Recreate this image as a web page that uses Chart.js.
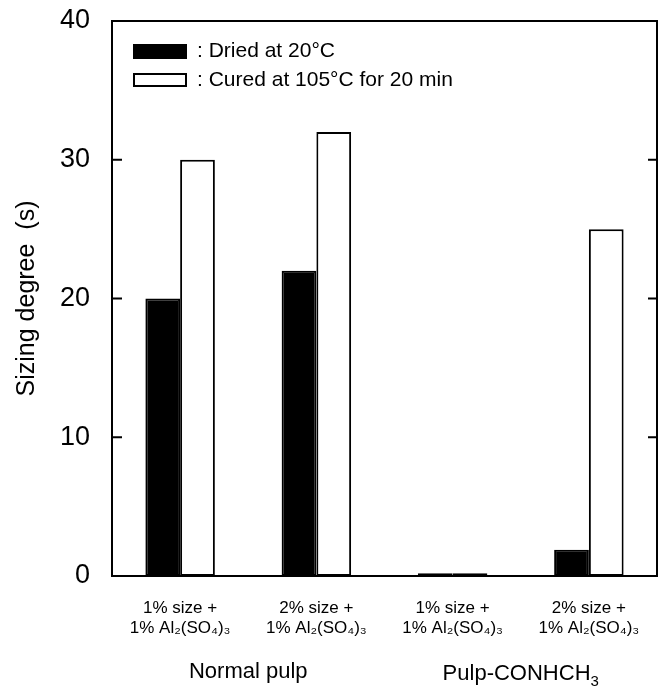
<!DOCTYPE html>
<html>
<head>
<meta charset="utf-8">
<script src="https://cdn.jsdelivr.net/npm/chart.js@4.4.1/dist/chart.umd.min.js"></script>
<style>
  html, body { margin: 0; padding: 0; background: #fff; }
  #wrap { width: 662px; height: 690px; }
</style>
</head>
<body>
<div id="wrap"><canvas id="chart"></canvas></div>
<script>
// datos
const categories = [
  ['1% size +', '1% Al₂(SO₄)₃'],
  ['2% size +', '1% Al₂(SO₄)₃'],
  ['1% size +', '1% Al₂(SO₄)₃'],
  ['2% size +', '1% Al₂(SO₄)₃']
];
const dried = [20, 22, 0.2, 1.9];
const cured = [30, 32, 0.2, 25];
const seriesNames = ['Dried at 20°C', 'Cured at 105°C for 20 min'];
const groupNames = ['Normal pulp', 'Pulp-CONHCH'];
const yTicks = [0, 10, 20, 30, 40];

const FONT = '"Liberation Sans", Arial, sans-serif';

// marco, marcas interiores, leyenda y nombres de grupo
const extras = {
  id: 'extras',
  afterDatasetsDraw(chart) {
    const { ctx, chartArea: a, scales } = chart;
    ctx.save();
    ctx.strokeStyle = '#000';
    ctx.lineWidth = 2;
    ctx.strokeRect(a.left, a.top, a.right - a.left, a.bottom - a.top);

    // marcas hacia dentro en ambos lados
    yTicks.forEach(v => {
      const y = scales.y.getPixelForValue(v);
      ctx.beginPath();
      ctx.moveTo(a.left, y); ctx.lineTo(a.left + 10, y);
      ctx.moveTo(a.right, y); ctx.lineTo(a.right - 9, y);
      ctx.stroke();
    });

    // leyenda
    ctx.font = '21px ' + FONT;
    ctx.textBaseline = 'middle';
    ctx.fillStyle = '#000';
    const lx = a.left + 21, ly = a.top + 30;
    ctx.fillRect(lx, ly - 7, 54, 15);
    ctx.fillText(': ' + seriesNames[0], lx + 64, ly);
    ctx.lineWidth = 2;
    ctx.strokeRect(lx + 1, ly + 23, 52, 12);
    ctx.fillText(': ' + seriesNames[1], lx + 64, ly + 29);

    // nombres de grupo
    ctx.font = '22px ' + FONT;
    ctx.textAlign = 'center';
    const x = scales.x;
    const g1 = (x.getPixelForValue(0) + x.getPixelForValue(1)) / 2;
    const g2 = (x.getPixelForValue(2) + x.getPixelForValue(3)) / 2;
    ctx.fillText(groupNames[0], g1, 672);
    const w = ctx.measureText(groupNames[1]).width;
    ctx.font = '15px ' + FONT;
    const ws = ctx.measureText('3').width;
    ctx.font = '22px ' + FONT;
    ctx.textAlign = 'left';
    const start = g2 - (w + ws) / 2;
    ctx.fillText(groupNames[1], start, 674);
    ctx.font = '15px ' + FONT;
    ctx.fillText('3', start + w, 682);
    ctx.restore();
  }
};

new Chart(document.getElementById('chart'), {
  type: 'bar',
  data: {
    labels: categories,
    datasets: [
      {
        label: seriesNames[0],
        data: dried,
        backgroundColor: '#000',
        borderColor: '#000',
        borderWidth: 2,
        borderSkipped: false
      },
      {
        label: seriesNames[1],
        data: cured,
        backgroundColor: '#fff',
        borderColor: '#000',
        borderWidth: 2,
        borderSkipped: false
      }
    ]
  },
  options: {
    responsive: true,
    maintainAspectRatio: false,
    animation: false,
    devicePixelRatio: 1,
    layout: { padding: { left: 0, right: 5, top: 21, bottom: 0 } },
    plugins: { legend: { display: false }, tooltip: { enabled: false } },
    datasets: { bar: { categoryPercentage: 0.51, barPercentage: 1 } },
    scales: {
      x: {
        grid: { display: false, drawTicks: false },
        border: { display: false },
        ticks: {
          color: '#000',
          font: { family: FONT, size: 17 },
          padding: 22,
          maxRotation: 0
        },
        afterFit(scale) {
          scale.height = 114;
          scale.paddingLeft = 0;
          scale.paddingRight = 0;
        }
      },
      y: {
        min: 0,
        max: 40,
        grid: { display: false, drawTicks: false },
        border: { display: false },
        afterBuildTicks(scale) { scale.ticks = yTicks.map(v => ({ value: v })); },
        ticks: {
          color: '#000',
          font: { family: FONT, size: 27 },
          padding: 22
        },
        title: {
          display: true,
          text: 'Sizing degree  (s)',
          color: '#000',
          font: { family: FONT, size: 25 },
          padding: { top: 12, bottom: 0 }
        },
        afterFit(scale) {
          scale.width = 112;
          scale.paddingTop = 0;
          scale.paddingBottom = 0;
        }
      }
    }
  },
  plugins: [extras]
});
</script>
</body>
</html>
